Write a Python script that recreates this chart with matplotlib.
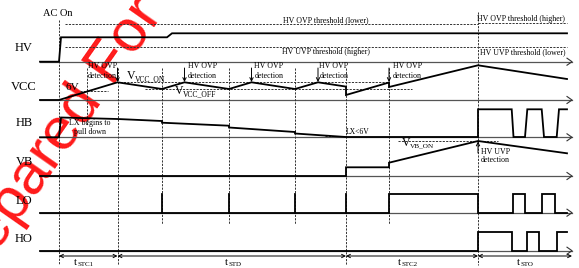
import matplotlib
matplotlib.use("Agg")
import matplotlib.pyplot as plt

SERIF = "Liberation Serif"

# ---- signal shapes (pixel coordinates of the reference, y downward) ----
signal_names = ["HV", "VCC", "HB", "VB", "LO", "HO"]
baselines = [61.7, 100, 137.3, 176, 212.7, 250.7]
label_y = [48.3, 86.5, 123.3, 161.7, 200.7, 239.3]

HV_x = [40, 59, 61, 167, 172, 567]
HV_y = [61.7, 61.7, 37.3, 37.3, 33.3, 33.3]

VCC_x = [40, 59, 117.5, 162, 184.5, 229, 251.5, 295, 318, 346, 346, 389, 389, 478, 567]
VCC_y = [100, 100, 82.3, 89, 82.3, 89, 82.3, 89, 82.3, 86.6, 95, 82.5, 87, 65.3, 79]

HB_x = [40, 59, 61, 117.5, 162, 162, 229, 229, 295, 295, 346, 478, 478, 511.7, 513.5,
        525, 527.3, 541.7, 544, 556.7, 559, 567]
HB_y = [137.3, 137.3, 117.5, 119, 121, 122.7, 125.7, 127.5, 132, 133.5, 137, 137, 109.3,
        109.3, 137, 137, 109.3, 109.3, 137, 137, 109.3, 109.3]

VB_x = [40, 346, 346, 389, 389, 478, 567]
VB_y = [176, 176, 167.3, 167.3, 162.7, 141, 153.3]

LO_x = [40, 389, 389, 478, 478, 512.7, 512.7, 525, 525, 542.3, 542.3, 555, 555, 567]
LO_y = [212.7, 212.7, 194, 194, 212.7, 212.7, 194, 194, 212.7, 212.7, 194, 194, 212.7, 212.7]
LO_spikes = [162, 229, 295, 346]
LO_spike_top = 194

HO_x = [40, 478, 478, 511.7, 511.7, 527.3, 527.3, 539.3, 539.3, 556.7, 556.7, 567]
HO_y = [250.7, 250.7, 231.7, 231.7, 250.7, 250.7, 231.7, 231.7, 250.7, 250.7, 231.7, 231.7]

# vertical dashed markers: x, y_top, y_bottom
vmarks_x = [59, 87, 117.5, 162, 229, 295, 346, 389, 478]
vmarks_top = [20, 68, 68, 68, 68, 68, 68, 68, 12]
vmarks_bot = [265, 125, 265, 224, 224, 224, 265, 224, 265]

# horizontal dashed thresholds: y, x_start, x_end
hmarks_y = [24, 22.7, 46.7, 46.7, 82.3, 89, 90.7, 136, 141]
hmarks_x0 = [65, 478, 65, 478, 120, 145, 80, 325, 398]
hmarks_x1 = [478, 567, 478, 567, 388, 412, 108, 346, 498]

# detection arrows
ovp_arrow_x = [117.5, 184.5, 251.5, 318, 389]
ovp_text_x = [102.5, 202.5, 269, 334, 407.5]

# time intervals
t_edges = [59, 117.5, 346, 478, 572]
t_subs = ["STC1", "STD", "STC2", "STO"]
t_label_x = [74, 225, 398, 517]

fig = plt.figure(figsize=(5.79, 2.68), dpi=100)
ax = fig.add_axes([0, 0, 1, 1])
ax.set_xlim(0, 579)
ax.set_ylim(268, 0)
ax.axis("off")

# watermark
ax.text(-38, 302, "Prepared For", rotation=55, rotation_mode="anchor",
        ha="left", va="baseline", fontsize=43, color="#ff1a1a",
        family="Liberation Sans", zorder=0.5)

dash = dict(color="#333333", lw=0.7, linestyle=(0, (2.2, 1.3)), zorder=2)

# baselines with open arrowheads
for y in baselines:
    ax.plot([40, 572], [y, y], color="#555555", lw=0.9, zorder=2)
    ax.plot([567, 572, 567], [y - 3.5, y, y + 3.5], color="#333333", lw=0.8, zorder=2)

for x, y0, y1 in zip(vmarks_x, vmarks_top, vmarks_bot):
    ax.plot([x, x], [y0, y1], **dash)
for y, x0, x1 in zip(hmarks_y, hmarks_x0, hmarks_x1):
    ax.plot([x0, x1], [y, y], **dash)

wave = dict(color="black", lw=1.3, zorder=3, solid_joinstyle="miter")
for xs, ys in [(HV_x, HV_y), (VCC_x, VCC_y), (HB_x, HB_y), (VB_x, VB_y), (LO_x, LO_y), (HO_x, HO_y)]:
    ax.plot(xs, ys, **wave)
for x in LO_spikes:
    ax.plot([x, x], [212.7, LO_spike_top], **wave)

# labels
for name, y in zip(signal_names, label_y):
    ax.text(24, y, name, ha="center", va="center", fontsize=9, family=SERIF, zorder=4)

ax.text(58, 14, "AC On", ha="center", va="center", fontsize=7.5, family=SERIF, zorder=4)

small = dict(ha="center", va="center", fontsize=5.7, family=SERIF, zorder=4)
ax.text(326, 20, "HV OVP threshold (lower)", **small)
ax.text(326, 52.3, "HV UVP threshold (higher)", **small)
ax.text(520.5, 19, "HV OVP threshold (higher)", **small)
ax.text(522.5, 52.3, "HV UVP threshold (lower)", **small)

for ax_x, tx in zip(ovp_arrow_x, ovp_text_x):
    ax.annotate("", xy=(ax_x, 82), xytext=(ax_x, 68),
                arrowprops=dict(arrowstyle="->", lw=0.7, color="black",
                                mutation_scale=6, shrinkA=0, shrinkB=0), zorder=4)
    ax.text(tx, 65.5, "HV OVP", **small)
    ax.text(tx, 75.5, "detection", **small)

ax.text(72.5, 87, "6V", ha="center", va="center", fontsize=8, family=SERIF, zorder=4)

def vsub(x, y, main, sub, fs=8.5, sfs=5.5, dx=8, dy=3):
    ax.text(x, y, main, ha="left", va="center", fontsize=fs, family=SERIF, zorder=4)
    ax.text(x + dx, y + dy, sub, ha="left", va="center", fontsize=sfs, family=SERIF, zorder=4)

vsub(127, 76, "V", "VCC_ON")
vsub(175, 91.5, "V", "VCC_OFF")
vsub(402, 143, "V", "VB_ON", sfs=5.2)

ax.text(90, 122.7, "LX begins to", **small)
ax.text(90, 132.3, "pull down", **small)
ax.text(346, 131.7, "LX<6V", ha="left", va="center", fontsize=5.5, family=SERIF, zorder=4)

ax.annotate("", xy=(478, 141.5), xytext=(478, 153),
            arrowprops=dict(arrowstyle="->", lw=0.7, color="black",
                            mutation_scale=6, shrinkA=0, shrinkB=0), zorder=4)
ax.text(481, 151.7, "HV UVP", ha="left", va="center", fontsize=5.7, family=SERIF, zorder=4)
ax.text(481, 160.5, "detection", ha="left", va="center", fontsize=5.7, family=SERIF, zorder=4)

# time intervals
for x0, x1 in zip(t_edges[:-1], t_edges[1:]):
    ax.annotate("", xy=(x0, 256), xytext=(x1, 256),
                arrowprops=dict(arrowstyle="<->", lw=0.7, color="black",
                                mutation_scale=6, shrinkA=0, shrinkB=0), zorder=4)
for x, s in zip(t_label_x, t_subs):
    vsub(x, 262.5, "t", s, fs=7.5, sfs=5, dx=3.5, dy=1.5)

fig.savefig("out.png", dpi=100)
